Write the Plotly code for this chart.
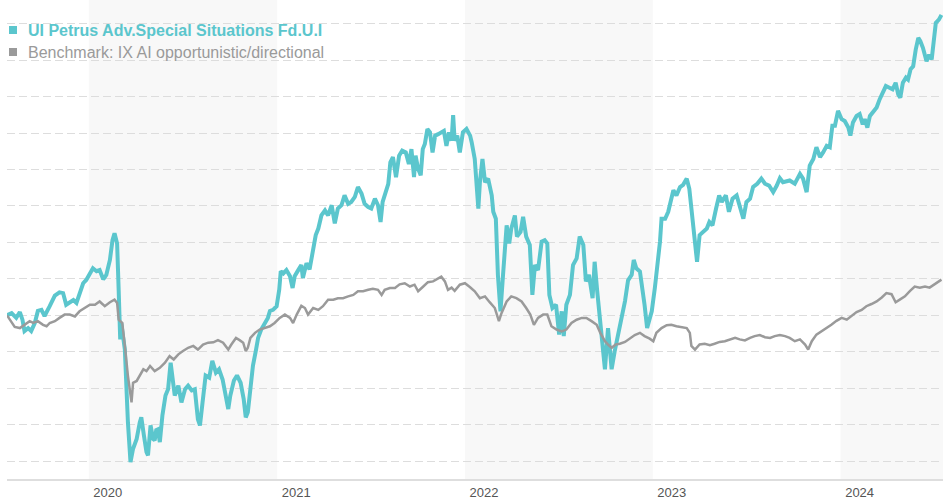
import plotly.graph_objects as go

fund_name = "UI Petrus Adv.Special Situations Fd.U.I"
bench_name = "Benchmark: IX AI opportunistic/directional"
year_ticks = ["2020", "2021", "2022", "2023", "2024"]
shaded_years = ["2020", "2022", "2024"]

fund_dates = [
    "2019-07-26", "2019-08-04", "2019-08-13", "2019-08-20", "2019-08-25", "2019-08-29", "2019-09-05", "2019-09-11",
    "2019-09-18", "2019-09-24", "2019-10-01", "2019-10-07", "2019-10-17", "2019-10-27", "2019-11-05", "2019-11-12",
    "2019-11-18", "2019-11-25", "2019-12-02", "2019-12-08", "2019-12-14", "2019-12-21", "2019-12-27", "2020-01-03",
    "2020-01-09", "2020-01-16", "2020-01-22", "2020-01-29", "2020-02-04", "2020-02-11", "2020-02-16", "2020-02-20",
    "2020-02-25", "2020-02-28", "2020-03-02", "2020-03-04", "2020-03-11", "2020-03-17", "2020-03-22", "2020-03-27",
    "2020-04-03", "2020-04-09", "2020-04-12", "2020-04-17", "2020-04-22", "2020-04-25", "2020-04-30", "2020-05-05",
    "2020-05-08", "2020-05-11", "2020-05-14", "2020-05-18", "2020-05-23", "2020-05-29", "2020-06-03", "2020-06-08",
    "2020-06-12", "2020-06-16", "2020-06-23", "2020-06-29", "2020-07-06", "2020-07-12", "2020-07-19", "2020-07-25",
    "2020-07-31", "2020-08-04", "2020-08-09", "2020-08-15", "2020-08-22", "2020-08-28", "2020-09-04", "2020-09-10",
    "2020-09-17", "2020-09-23", "2020-09-28", "2020-10-02", "2020-10-09", "2020-10-15", "2020-10-22", "2020-10-28",
    "2020-11-01", "2020-11-05", "2020-11-10", "2020-11-15", "2020-11-21", "2020-11-25", "2020-12-01", "2020-12-08",
    "2020-12-14", "2020-12-18", "2020-12-24", "2020-12-31", "2021-01-05", "2021-01-08", "2021-01-13", "2021-01-19",
    "2021-01-26", "2021-01-31", "2021-02-04", "2021-02-11", "2021-02-17", "2021-02-20", "2021-02-27", "2021-03-05",
    "2021-03-12", "2021-03-17", "2021-03-22", "2021-03-28", "2021-04-04", "2021-04-10", "2021-04-17", "2021-04-23",
    "2021-04-29", "2021-05-06", "2021-05-12", "2021-05-19", "2021-05-25", "2021-06-01", "2021-06-07", "2021-06-14",
    "2021-06-20", "2021-06-27", "2021-07-03", "2021-07-10", "2021-07-16", "2021-07-21", "2021-07-25", "2021-07-31",
    "2021-08-05", "2021-08-09", "2021-08-14", "2021-08-20", "2021-08-26", "2021-09-01", "2021-09-08", "2021-09-14",
    "2021-09-19", "2021-09-24", "2021-09-27", "2021-10-02", "2021-10-07", "2021-10-11", "2021-10-15", "2021-10-20",
    "2021-10-25", "2021-10-30", "2021-11-04", "2021-11-10", "2021-11-16", "2021-11-21", "2021-11-26", "2021-12-01",
    "2021-12-06", "2021-12-09", "2021-12-12", "2021-12-17", "2021-12-22", "2021-12-28", "2022-01-04", "2022-01-11",
    "2022-01-14", "2022-01-20", "2022-01-27", "2022-01-30", "2022-02-04", "2022-02-09", "2022-02-15", "2022-02-22",
    "2022-02-25", "2022-03-02", "2022-03-06", "2022-03-11", "2022-03-16", "2022-03-23", "2022-03-28", "2022-04-01",
    "2022-04-08", "2022-04-12", "2022-04-19", "2022-04-24", "2022-04-30", "2022-05-07", "2022-05-12", "2022-05-17",
    "2022-05-23", "2022-05-30", "2022-06-05", "2022-06-10", "2022-06-14", "2022-06-20", "2022-06-27", "2022-07-03",
    "2022-07-08", "2022-07-12", "2022-07-17", "2022-07-24", "2022-07-30", "2022-08-06", "2022-08-12", "2022-08-19",
    "2022-08-24", "2022-08-30", "2022-09-06", "2022-09-10", "2022-09-15", "2022-09-20", "2022-09-25", "2022-09-30",
    "2022-10-06", "2022-10-13", "2022-10-19", "2022-10-26", "2022-11-01", "2022-11-08", "2022-11-14", "2022-11-21",
    "2022-11-25", "2022-11-30", "2022-12-07", "2022-12-12", "2022-12-16", "2022-12-21", "2022-12-26", "2022-12-30",
    "2023-01-05", "2023-01-10", "2023-01-15", "2023-01-18", "2023-01-25", "2023-01-31", "2023-02-04", "2023-02-10",
    "2023-02-16", "2023-02-23", "2023-03-01", "2023-03-08", "2023-03-13", "2023-03-17", "2023-03-22", "2023-03-28",
    "2023-04-02", "2023-04-09", "2023-04-16", "2023-04-21", "2023-04-27", "2023-05-04", "2023-05-10", "2023-05-15",
    "2023-05-23", "2023-05-29", "2023-06-05", "2023-06-13", "2023-06-19", "2023-06-26", "2023-07-02", "2023-07-09",
    "2023-07-15", "2023-07-23", "2023-07-31", "2023-08-07", "2023-08-15", "2023-08-23", "2023-08-30", "2023-09-05",
    "2023-09-11", "2023-09-16", "2023-09-24", "2023-10-04", "2023-10-14", "2023-10-20", "2023-10-27", "2023-11-02",
    "2023-11-09", "2023-11-15", "2023-11-22", "2023-11-28", "2023-12-05", "2023-12-11", "2023-12-16", "2023-12-21",
    "2023-12-27", "2024-01-03", "2024-01-09", "2024-01-16", "2024-01-20", "2024-01-25", "2024-02-01", "2024-02-07",
    "2024-02-13", "2024-02-17", "2024-02-22", "2024-02-27", "2024-03-04", "2024-03-11", "2024-03-17", "2024-03-24",
    "2024-03-29", "2024-04-04", "2024-04-11", "2024-04-17", "2024-04-22", "2024-04-26", "2024-05-01", "2024-05-07",
    "2024-05-11", "2024-05-16", "2024-05-21", "2024-05-26", "2024-05-31", "2024-06-04", "2024-06-09", "2024-06-16",
    "2024-06-21", "2024-06-26", "2024-06-29", "2024-07-04", "2024-07-10", "2024-07-15",
]
fund_values = [
    100.0, 100.6, 99.3, 100.9, 98.8, 95.7, 96.5, 95.7,
    97.9, 101.2, 101.5, 99.8, 102.5, 105.4, 106.3, 106.1,
    102.9, 103.6, 104.2, 103.4, 105.6, 108.8, 109.7, 111.5,
    112.9, 112.1, 112.4, 109.9, 111.1, 115.2, 120.6, 122.5,
    119.7, 107.0, 93.4, 97.9, 90.6, 70.6, 59.7, 63.4,
    66.1, 70.6, 72.0, 67.1, 62.5, 61.6, 69.8, 66.1,
    65.7, 68.5, 68.7, 65.2, 72.5, 78.0, 79.7, 87.0,
    81.5, 78.0, 80.7, 76.1, 79.7, 80.7, 79.4, 79.7,
    71.5, 69.8, 76.1, 83.5, 82.9, 87.5, 84.3, 85.2,
    82.4, 78.0, 74.3, 78.0, 82.1, 83.5, 81.5, 77.0,
    72.0, 73.4, 79.7, 86.2, 90.6, 93.8, 96.1, 97.9,
    99.3, 101.2, 101.5, 102.5, 107.0, 112.1, 111.5, 112.4,
    110.7, 107.5, 110.7, 112.4, 113.8, 110.2, 114.3, 112.6,
    117.5, 122.0, 123.8, 127.4, 128.8, 127.4, 130.2, 125.2,
    129.3, 130.2, 132.9, 130.6, 131.1, 132.5, 135.2, 133.4,
    130.6, 129.7, 129.3, 132.0, 130.2, 125.6, 131.1, 134.3,
    136.1, 142.0, 143.4, 137.9, 143.8, 145.2, 144.7, 141.5,
    145.6, 137.9, 143.8, 140.2, 138.4, 145.6, 147.0, 151.1,
    150.2, 144.7, 149.3, 149.7, 150.2, 150.6, 146.5, 150.2,
    147.9, 154.9, 147.9, 149.3, 144.7, 150.2, 151.1, 149.3,
    147.5, 142.9, 129.3, 136.5, 142.9, 136.5, 137.5, 132.9,
    128.4, 126.5, 111.1, 101.1, 111.1, 124.7, 119.7, 123.8,
    127.4, 121.6, 122.9, 127.0, 121.6, 119.3, 105.6, 113.8,
    112.4, 120.2, 120.6, 119.7, 105.6, 102.0, 102.9, 94.7,
    101.1, 94.3, 102.9, 105.6, 113.8, 115.6, 121.6, 119.3,
    109.3, 111.1, 104.7, 114.7, 106.6, 100.2, 93.8, 85.2,
    96.5, 85.2, 90.2, 94.7, 99.3, 103.9, 109.6, 111.1,
    115.2, 112.9, 112.0, 107.5, 102.9, 96.5, 99.3, 101.1,
    107.5, 113.8, 120.2, 126.5, 126.5, 128.4, 131.1, 134.3,
    132.9, 135.2, 135.8, 137.5, 134.7, 129.3, 124.7, 114.7,
    122.0, 122.9, 123.8, 125.6, 124.7, 129.3, 132.9, 131.1,
    132.9, 128.4, 132.0, 132.9, 130.2, 126.5, 131.1, 132.0,
    135.2, 136.1, 137.5, 136.1, 135.6, 133.8, 135.6, 137.6,
    136.5, 136.6, 137.0, 136.1, 138.8, 137.5, 133.8, 141.1,
    142.9, 146.1, 143.4, 144.7, 146.5, 146.1, 152.0, 152.0,
    156.1, 153.8, 153.3, 151.5, 149.3, 152.9, 154.7, 155.2,
    152.4, 153.8, 151.5, 154.7, 155.6, 157.0, 159.3, 161.1,
    162.9, 162.5, 162.0, 163.8, 160.6, 159.7, 163.8, 165.2,
    164.7, 167.5, 168.3, 172.9, 176.1, 175.2, 173.4, 169.7,
    171.5, 170.2, 174.7, 180.2, 181.1, 182.4,
]

bench_dates = [
    "2019-07-26", "2019-08-04", "2019-08-10", "2019-08-20", "2019-08-29", "2019-09-08", "2019-09-15", "2019-09-24",
    "2019-10-04", "2019-10-11", "2019-10-17", "2019-10-27", "2019-11-05", "2019-11-15", "2019-11-25", "2019-12-05",
    "2019-12-14", "2019-12-24", "2020-01-03", "2020-01-13", "2020-01-22", "2020-02-01", "2020-02-11", "2020-02-20",
    "2020-02-25", "2020-02-28", "2020-03-06", "2020-03-11", "2020-03-17", "2020-03-24", "2020-03-27", "2020-04-03",
    "2020-04-09", "2020-04-16", "2020-04-22", "2020-04-29", "2020-05-08", "2020-05-18", "2020-05-28", "2020-06-06",
    "2020-06-14", "2020-06-23", "2020-07-02", "2020-07-12", "2020-07-22", "2020-07-31", "2020-08-10", "2020-08-20",
    "2020-08-30", "2020-09-08", "2020-09-18", "2020-09-28", "2020-10-04", "2020-10-13", "2020-10-20", "2020-10-27",
    "2020-11-01", "2020-11-05", "2020-11-10", "2020-11-19", "2020-11-28", "2020-12-08", "2020-12-18", "2020-12-27",
    "2021-01-06", "2021-01-16", "2021-01-26", "2021-02-01", "2021-02-08", "2021-02-17", "2021-02-24", "2021-03-02",
    "2021-03-12", "2021-03-22", "2021-03-31", "2021-04-10", "2021-04-20", "2021-04-29", "2021-05-09", "2021-05-19",
    "2021-05-29", "2021-06-07", "2021-06-17", "2021-06-27", "2021-07-06", "2021-07-16", "2021-07-23", "2021-07-29",
    "2021-08-08", "2021-08-18", "2021-08-27", "2021-09-06", "2021-09-16", "2021-09-25", "2021-10-02", "2021-10-12",
    "2021-10-21", "2021-10-31", "2021-11-10", "2021-11-16", "2021-11-23", "2021-11-29", "2021-12-06", "2021-12-12",
    "2021-12-22", "2022-01-01", "2022-01-11", "2022-01-20", "2022-01-30", "2022-02-09", "2022-02-18", "2022-02-28",
    "2022-03-08", "2022-03-13", "2022-03-23", "2022-04-01", "2022-04-11", "2022-04-21", "2022-04-30", "2022-05-08",
    "2022-05-15", "2022-05-23", "2022-06-02", "2022-06-10", "2022-06-18", "2022-06-28", "2022-07-08", "2022-07-17",
    "2022-07-27", "2022-08-06", "2022-08-16", "2022-08-25", "2022-09-04", "2022-09-14", "2022-09-21", "2022-09-30",
    "2022-10-06", "2022-10-13", "2022-10-21", "2022-10-29", "2022-11-08", "2022-11-18", "2022-11-27", "2022-12-07",
    "2022-12-16", "2022-12-26", "2023-01-02", "2023-01-08", "2023-01-18", "2023-01-28", "2023-02-06", "2023-02-16",
    "2023-02-26", "2023-03-08", "2023-03-14", "2023-03-17", "2023-03-24", "2023-04-02", "2023-04-12", "2023-04-22",
    "2023-05-01", "2023-05-11", "2023-05-21", "2023-05-31", "2023-06-10", "2023-06-19", "2023-06-29", "2023-07-09",
    "2023-07-18", "2023-07-28", "2023-08-07", "2023-08-17", "2023-08-26", "2023-09-05", "2023-09-15", "2023-09-24",
    "2023-10-04", "2023-10-14", "2023-10-24", "2023-10-30", "2023-11-06", "2023-11-15", "2023-11-25", "2023-12-05",
    "2023-12-14", "2023-12-24", "2024-01-03", "2024-01-13", "2024-01-22", "2024-02-01", "2024-02-11", "2024-02-20",
    "2024-03-01", "2024-03-11", "2024-03-21", "2024-03-30", "2024-04-09", "2024-04-17", "2024-04-25", "2024-05-05",
    "2024-05-15", "2024-05-24", "2024-06-03", "2024-06-13", "2024-06-22", "2024-07-02", "2024-07-12", "2024-07-15",
]
bench_values = [
    100.0, 97.9, 96.8, 96.5, 97.4, 98.4, 97.9, 98.4,
    97.4, 97.0, 97.9, 98.4, 99.3, 100.2, 100.2, 99.7,
    101.1, 102.0, 102.9, 102.9, 103.8, 102.5, 103.6, 104.3,
    103.4, 98.8, 97.9, 91.6, 83.4, 76.1, 81.5, 82.0,
    83.4, 85.2, 84.7, 86.1, 84.7, 85.6, 87.0, 88.8,
    87.9, 89.3, 90.2, 91.1, 91.6, 90.6, 92.0, 92.5,
    92.6, 93.2, 92.5, 90.6, 92.0, 93.8, 93.2, 92.5,
    90.2, 91.1, 93.8, 95.2, 96.1, 96.5, 97.0, 97.9,
    99.3, 100.2, 99.3, 97.9, 100.2, 102.6, 102.0, 100.2,
    102.0, 101.5, 102.5, 104.3, 104.3, 104.7, 104.7, 105.2,
    105.6, 106.6, 106.6, 107.0, 107.3, 107.0, 105.6, 107.0,
    107.5, 107.5, 108.5, 108.8, 107.9, 108.4, 106.6, 107.9,
    109.1, 109.3, 110.0, 110.6, 109.3, 107.0, 107.6, 106.7,
    108.4, 108.8, 107.7, 106.6, 104.7, 105.2, 103.6, 102.0,
    98.4, 100.6, 103.8, 105.2, 104.7, 103.8, 102.0, 100.2,
    97.4, 99.3, 100.2, 100.2, 97.0, 96.1, 95.6, 96.1,
    97.9, 98.8, 99.3, 99.3, 98.4, 97.4, 95.2, 92.9,
    92.0, 91.1, 92.0, 92.2, 92.7, 93.8, 94.6, 95.2,
    94.3, 93.6, 92.9, 95.2, 96.5, 97.3, 97.4, 97.0,
    96.7, 96.5, 95.2, 91.6, 90.6, 92.0, 92.2, 91.8,
    92.2, 92.7, 92.9, 93.4, 93.8, 93.4, 93.1, 93.8,
    94.3, 94.6, 94.0, 93.8, 94.3, 94.6, 94.3, 93.8,
    92.9, 93.4, 92.0, 90.6, 92.9, 94.7, 95.6, 96.5,
    97.4, 98.5, 99.3, 98.8, 99.7, 100.9, 101.5, 102.5,
    103.1, 103.8, 104.9, 106.1, 105.8, 103.6, 104.3, 105.2,
    106.7, 107.9, 107.6, 107.9, 107.6, 108.5, 109.4, 109.8,
]

TEAL = "#5bc6cd"
GREY = "#9a9a9a"
FONT = "Liberation Sans, Arial, sans-serif"
x_start, x_end = "2019-07-26", "2024-07-18"

fig = go.Figure()
fig.add_trace(go.Scatter(x=fund_dates, y=fund_values, mode="lines", name=fund_name,
                         line=dict(color=TEAL, width=4), showlegend=False))
fig.add_trace(go.Scatter(x=bench_dates, y=bench_values, mode="lines", name=bench_name,
                         line=dict(color=GREY, width=2.5), showlegend=False))

for yr in shaded_years:
    x0 = f"{yr}-01-01"
    x1 = f"{int(yr) + 1}-01-01"
    if x1 > x_end:
        x1 = x_end
    fig.add_shape(type="rect", xref="x", yref="paper", x0=x0, x1=x1, y0=0, y1=1,
                  fillcolor="#f8f8f8", line_width=0, layer="below")

legend_items = [(fund_name, TEAL, True, 16, 30), (bench_name, GREY, False, 16, 52)]
for name, color, bold, size, ypx in legend_items:
    fig.add_annotation(xref="paper", yref="paper", x=0, y=1, xanchor="left", yanchor="middle",
                       xshift=19, yshift=-ypx, showarrow=False,
                       text=f"<b>{name}</b>" if bold else name,
                       font=dict(family=FONT, size=size, color=color))
    fig.add_shape(type="rect", xref="paper", yref="paper", xsizemode="pixel", ysizemode="pixel",
                  xanchor=0, yanchor=1, x0=2, x1=10, y0=-ypx - 4, y1=-ypx + 4,
                  fillcolor=color, line_width=0)

fig.update_layout(
    width=943, height=500,
    margin=dict(l=7, r=0, t=0, b=18),
    plot_bgcolor="white", paper_bgcolor="white",
    showlegend=False,
    xaxis=dict(type="date", range=[x_start, x_end],
               tickvals=[f"{y}-01-01" for y in year_ticks], ticktext=year_ticks,
               ticklabelshift=19, ticks="", showgrid=False, zeroline=False,
               showline=True, linecolor="#dedede", linewidth=2,
               tickfont=dict(family=FONT, size=13, color="#555555")),
    yaxis=dict(range=[55.1, 186.5], tick0=0, dtick=10, showticklabels=False, ticks="",
               showgrid=True, gridcolor="#dddddd", gridwidth=1, griddash="8px,4px",
               zeroline=False, showline=False),
)

fig.write_html("out.html", config={"displayModeBar": False},
               post_script="document.body.style.margin='0';")
